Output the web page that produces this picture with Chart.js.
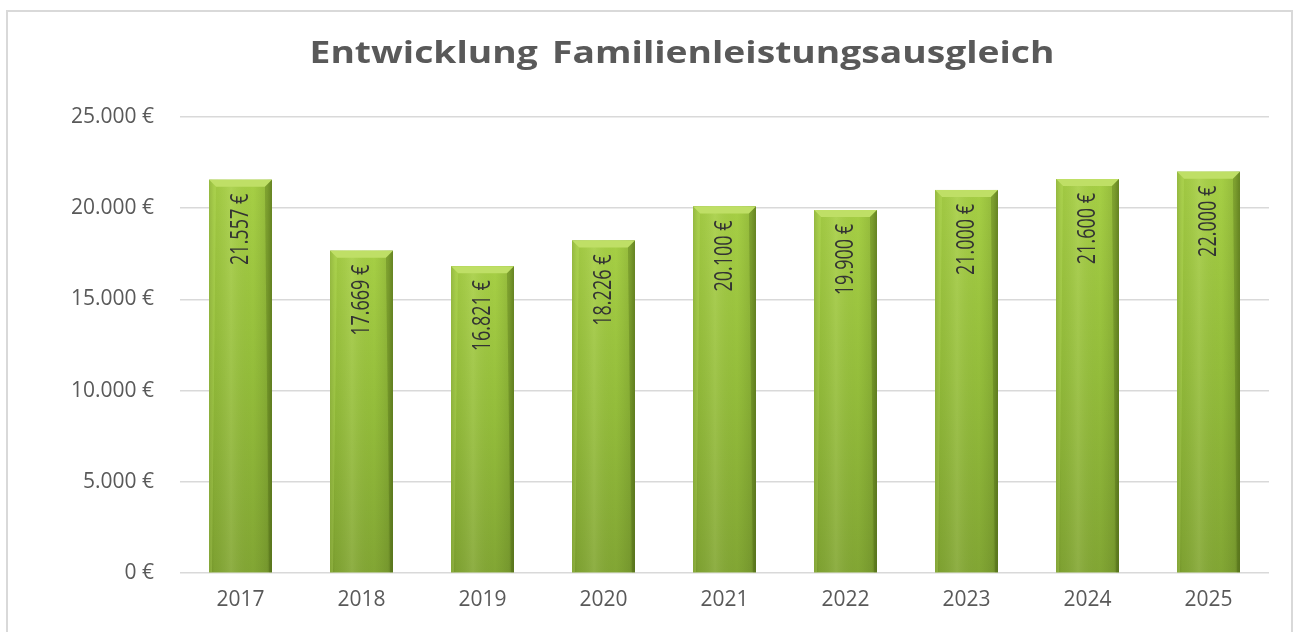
<!DOCTYPE html>
<html>
<head>
<meta charset="utf-8">
<script src="https://cdn.jsdelivr.net/npm/chart.js@4/dist/chart.umd.min.js"></script>
<style>
  html, body { margin: 0; padding: 0; background: #fff; overflow: hidden; }
  #frame { position: absolute; left: 6px; top: 10px; width: 1287px; height: 640px; border: 2px solid #d9d9d9; box-sizing: border-box; }
  #wrap { position: absolute; left: 0; top: 0; width: 1293px; height: 632px; }
  #title { position: absolute; left: 182px; width: 1000px; top: 36px; text-align: center; font-family: "Open Sans"; font-weight: bold; font-size: 31px; line-height: 31px; color: #595959; word-spacing: 4px; transform: scaleX(1.2); transform-origin: 50% 50%; white-space: nowrap; }
</style>
</head>
<body>
<div id="frame"></div>
<div id="wrap"><canvas id="c" width="1293" height="632"></canvas></div>
<div id="title"></div>
<script>
const TITLE = 'Entwicklung Familienleistungsausgleich';
const years = ['2017', '2018', '2019', '2020', '2021', '2022', '2023', '2024', '2025'];
const amounts = [21557, 17669, 16821, 18226, 20100, 19900, 21000, 21600, 22000];
const yTicks = [0, 5000, 10000, 15000, 20000, 25000];

document.getElementById('title').textContent = TITLE;
const fmt = v => v.toLocaleString('de-DE') + ' €';

const bevelPlugin = {
  id: 'bevel',
  afterDatasetsDraw(chart) {
    const ctx = chart.ctx;
    const meta = chart.getDatasetMeta(0);
    meta.data.forEach((bar, i) => {
      const p = bar.getProps(['x', 'y', 'base', 'width'], true);
      const l = p.x - p.width / 2, r = p.x + p.width / 2, t = p.y, b = p.base;
      const w = p.width, h = b - t;
      ctx.save();
      let g = ctx.createLinearGradient(0, t, 0, b);
      g.addColorStop(0, '#a6cf45');
      g.addColorStop(0.5, '#94bd3b');
      g.addColorStop(1, '#82a634');
      ctx.fillStyle = g;
      ctx.fillRect(l, t, w, h);
      g = ctx.createLinearGradient(l, 0, r, 0);
      g.addColorStop(0, 'rgba(60,80,10,0.30)');
      g.addColorStop(0.08, 'rgba(60,80,10,0.06)');
      g.addColorStop(0.35, 'rgba(255,255,220,0.10)');
      g.addColorStop(0.7, 'rgba(60,80,10,0.0)');
      g.addColorStop(0.92, 'rgba(50,70,10,0.15)');
      g.addColorStop(1, 'rgba(40,55,5,0.40)');
      ctx.fillStyle = g;
      ctx.fillRect(l, t, w, h);
      const bv = 7;
      ctx.beginPath();
      ctx.moveTo(l, t); ctx.lineTo(r, t); ctx.lineTo(r - bv, t + bv); ctx.lineTo(l + bv, t + bv); ctx.closePath();
      ctx.fillStyle = '#bfdf66';
      ctx.fill();
      ctx.beginPath();
      ctx.moveTo(l, t); ctx.lineTo(l + bv, t + bv); ctx.lineTo(l + 3, b); ctx.lineTo(l, b); ctx.closePath();
      ctx.fillStyle = 'rgba(190,225,100,0.30)';
      ctx.fill();
      ctx.beginPath();
      ctx.moveTo(r, t); ctx.lineTo(r - bv, t + bv); ctx.lineTo(r - 3, b); ctx.lineTo(r, b); ctx.closePath();
      ctx.fillStyle = 'rgba(70,95,15,0.30)';
      ctx.fill();
      ctx.translate(p.x, t + 14);
      ctx.rotate(-Math.PI / 2);
      ctx.scale(1, 1.4);
      ctx.font = '18px "Open Sans"';
      ctx.fillStyle = '#333333';
      ctx.textAlign = 'right';
      ctx.textBaseline = 'middle';
      ctx.fillText(fmt(amounts[i]), 0, 0);
      ctx.restore();
    });
  }
};

new Chart(document.getElementById('c'), {
  type: 'bar',
  data: {
    labels: years,
    datasets: [{
      data: amounts,
      backgroundColor: '#94bd3b',
      borderWidth: 0,
      barPercentage: 0.52,
      categoryPercentage: 1.0
    }]
  },
  options: {
    responsive: false,
    animation: false,
    layout: { padding: { top: 117, right: 24, bottom: 0, left: 0 } },
    plugins: {
      legend: { display: false },
      tooltip: { enabled: false },
      title: { display: false }
    },
    scales: {
      x: {
        grid: { display: false, drawTicks: false },
        border: { display: false },
        ticks: { color: '#595959', font: { family: '"Open Sans"', size: 21 }, padding: 14 },
        afterFit(s) { s.height = 59; }
      },
      y: {
        min: 0, max: 25000,
        afterBuildTicks(s) { s.ticks = yTicks.map(v => ({ value: v })); },
        grid: { color: '#d9d9d9', lineWidth: 1.5, drawTicks: false },
        border: { display: false },
        ticks: { color: '#595959', font: { family: '"Open Sans"', size: 21 }, padding: 26, callback: v => fmt(v) },
        afterFit(s) { s.width = 180; }
      }
    }
  },
  plugins: [bevelPlugin]
});
</script>
</body>
</html>
